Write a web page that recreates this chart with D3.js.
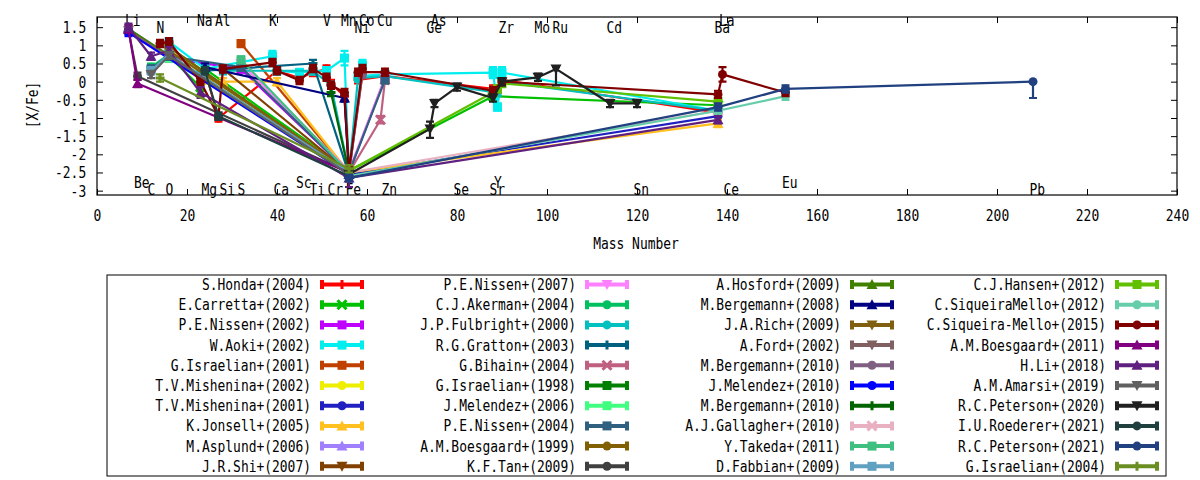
<!DOCTYPE html>
<html>
<head>
<meta charset="utf-8">
<script src="https://cdnjs.cloudflare.com/ajax/libs/d3/7.8.5/d3.min.js"></script>
<style>
  body { margin: 0; background: #fff; }
  text { font-family: "DejaVu Sans Mono", monospace; font-size: 15.5px; fill: #000; }
</style>
</head>
<body>
<div id="chart"></div>
<script>
// element symbols, mass numbers and the row their label sits in
const elementNames = ["Li","Be","C","N","O","Na","Mg","Al","Si","S","K","Ca","Sc","Ti","V","Cr","Mn","Fe","Co","Ni","Cu","Zn","Ge","As","Se","Sr","Y","Zr","Mo","Ru","Cd","Sn","Ba","La","Ce","Eu","Pb"];
const massNumbers  = [7,9,12,14,16,23,24,27,28,32,39,40,45,48,51,52,55,56,59,58,63,64,74,75,80,88,89,90,98,102,114,120,138,139,140,153,208];
const labelRows    = [0,2,3,1,3,0,3,0,3,3,0,3,2,3,0,3,0,3,0,1,0,3,1,0,3,3,2,1,1,1,1,3,1,0,3,2,3];
const labelRowValues = [1.67, 1.5, -2.78, -2.98];

const xTicks = [0,20,40,60,80,100,120,140,160,180,200,220,240];
const yTicks = [-3,-2.5,-2,-1.5,-1,-0.5,0,0.5,1,1.5];

const seriesNames = [
  "S.Honda+(2004)","E.Carretta+(2002)","P.E.Nissen+(2002)","W.Aoki+(2002)","G.Israelian+(2001)",
  "T.V.Mishenina+(2002)","T.V.Mishenina+(2001)","K.Jonsell+(2005)","M.Asplund+(2006)","J.R.Shi+(2007)",
  "P.E.Nissen+(2007)","C.J.Akerman+(2004)","J.P.Fulbright+(2000)","R.G.Gratton+(2003)","G.Bihain+(2004)",
  "G.Israelian+(1998)","J.Melendez+(2006)","P.E.Nissen+(2004)","A.M.Boesgaard+(1999)","K.F.Tan+(2009)",
  "A.Hosford+(2009)","M.Bergemann+(2008)","J.A.Rich+(2009)","A.Ford+(2002)","M.Bergemann+(2010)",
  "J.Melendez+(2010)","M.Bergemann+(2010)","A.J.Gallagher+(2010)","Y.Takeda+(2011)","D.Fabbian+(2009)",
  "C.J.Hansen+(2012)","C.SiqueiraMello+(2012)","C.Siqueira-Mello+(2015)","A.M.Boesgaard+(2011)","H.Li+(2018)",
  "A.M.Amarsi+(2019)","R.C.Peterson+(2020)","I.U.Roederer+(2021)","R.C.Peterson+(2021)","G.Israelian+(2004)"
];

const seriesColors = [
  "#ff0000","#00c000","#c000ff","#00eeee","#c04000",
  "#eeee00","#2020c0","#ffc020","#a080ff","#804000",
  "#ff80ff","#00c060","#00c0c0","#006080","#c06080",
  "#008000","#40ff80","#306080","#806000","#404040",
  "#408000","#000080","#806010","#806060","#806080",
  "#0000ff","#006400","#e8b0c0","#40c080","#60a0c0",
  "#60c000","#66cdaa","#800000","#800080","#602080",
  "#606060","#202020","#204040","#204080","#6b8e23"
];

// gnuplot point types: 1 plus, 2 cross, 5 square, 7 circle, 9 triangle up, 11 triangle down
const pointTypes = [1,2,5,5,5,7,7,9,9,11,11,7,7,1,2,5,5,5,7,7,9,9,11,11,7,7,1,2,5,5,5,7,7,9,9,11,11,7,7,1];

// [element, [X/Fe] (Fe: [Fe/H]), error] or [element, value, errLow, errHigh]
const seriesData = [
  [["Mg",0.3,0.1],["Al",-1.0,0.1],["Ca",0.3,0.1],["Sc",0.1,0.1],["Ti",0.25,0.1],["V",0.35,0.1],["Cr",-0.05,0.1],["Mn",-0.4,0.1],["Fe",-2.5,0.1],["Co",0.25,0.1],["Ni",0.05,0.1],["Zn",0.15,0.1],["Sr",-0.2,0.1],["Y",-0.3,0.1],["Zr",0.05,0.1],["Ba",-0.85,0.1]],
  [["O",0.7,0.1],["Na",-0.15,0.1],["Mg",0.35,0.1],["Fe",-2.45,0.1],["Sr",-0.4,0.1],["Ba",-0.65,0.1]],
  [["O",0.65,0.1],["S",0.35,0.1],["Fe",-2.5,0.1],["Zn",0.1,0.1]],
  [["O",1.1,0.1],["Mg",0.35,0.1],["K",0.7,0.15],["Ca",0.3,0.1],["Sc",0.25,0.1],["Ti",0.3,0.1],["V",0.3,0.1],["Mn",0.65,0.2],["Fe",-2.55,0.1],["Co",0.45,0.15],["Ni",0.15,0.1],["Zn",0.2,0.1],["Sr",0.25,0.15],["Y",-0.7,0.1],["Zr",0.25,0.15],["Ba",-0.8,0.1]],
  [["S",1.05,0.1,0.05],["Fe",-2.5,0.1]],
  [["O",0.85,0.1],["Fe",-2.45,0.1]],
  [["Fe",-2.55,0.1],["Ba",-0.95,0.1]],
  [["Mg",0.05,0.1],["Si",0.0,0.1],["Ca",0.0,0.1],["Fe",-2.5,0.1],["Ba",-1.15,0.1]],
  [["Li",1.45,0.1],["Fe",-2.55,0.1]],
  [["Si",0.35,0.1],["Fe",-2.5,0.1]],
  [["S",0.5,0.1],["Fe",-2.45,0.1],["Zn",0.1,0.1]],
  [["C",0.4,0.1],["O",0.75,0.1],["Fe",-2.5,0.1]],
  [["Na",0.2,0.1],["Mg",0.35,0.1],["Si",0.3,0.1],["Ca",0.3,0.1],["Ti",0.3,0.1],["Cr",-0.1,0.1],["Fe",-2.5,0.1],["Ni",0.1,0.1],["Zn",0.15,0.1],["Y",-0.3,0.1],["Zr",0.0,0.1],["Ba",-0.8,0.1]],
  [["O",0.75,0.1],["Na",0.1,0.1],["Mg",0.3,0.1],["Ti",0.5,0.1],["Fe",-2.55,0.1]],
  [["Fe",-2.5,0.1],["Cu",-1.05,0.1],["Zn",0.05,0.1]],
  [["O",0.95,0.1],["Fe",-2.5,0.1]],
  [["O",0.65,0.1],["Fe",-2.45,0.1]],
  [["C",0.35,0.1],["O",0.7,0.1],["S",0.4,0.1],["Fe",-2.5,0.1],["Zn",0.05,0.1]],
  [["O",0.95,0.1],["Fe",-2.5,0.1]],
  [["Li",1.4,0.1],["Be",0.15,0.1],["Fe",-2.5,0.1]],
  [["Li",1.45,0.1],["Fe",-2.5,0.1]],
  [["Mg",0.4,0.1],["Mn",-0.45,0.1],["Fe",-2.55,0.1]],
  [["O",0.85,0.1],["Fe",-2.45,0.1]],
  [["Li",1.4,0.1],["Fe",-2.5,0.1]],
  [["Fe",-2.5,0.1],["Co",0.2,0.1]],
  [["Li",1.35,0.1],["Fe",-2.55,0.1]],
  [["Cr",-0.3,0.1],["Fe",-2.5,0.1]],
  [["Fe",-2.5,0.1],["Ba",-0.8,0.1]],
  [["S",0.6,0.1],["Fe",-2.5,0.1]],
  [["C",0.3,0.1],["O",0.75,0.1],["Fe",-2.5,0.1]],
  [["Fe",-2.45,0.1],["Sr",-0.3,0.1],["Y",-0.2,0.1],["Zr",-0.05,0.1],["Ba",-0.55,0.1]],
  [["Fe",-2.6,0.1],["Ba",-0.8,0.1],["Eu",-0.4,0.1]],
  [["N",1.05,0.1],["O",1.1,0.1],["Na",0.0,0.1],["Al",-0.95,0.1],["Si",0.35,0.1],["K",0.53,0.1],["Ca",0.3,0.1],["Sc",0.03,0.1],["Ti",0.36,0.1],["V",0.12,0.1],["Cr",-0.1,0.1],["Mn",-0.3,0.1],["Fe",-2.45,0.1],["Co",0.36,0.1],["Ni",0.26,0.1],["Zn",0.26,0.1],["Sr",-0.25,0.1],["Zr",0.0,0.1],["Ba",-0.35,0.1],["La",0.2,0.2],["Eu",-0.3,0.1]],
  [["Li",1.45,0.1],["Be",-0.05,0.1],["Fe",-2.5,0.1]],
  [["Li",1.5,0.1],["C",0.7,0.1],["O",0.85,0.1],["Na",-0.3,0.15],["Fe",-2.65,0.25,0.05],["Ba",-1.05,0.1]],
  [["C",0.2,0.1],["O",0.72,0.1],["Fe",-2.55,0.1]],
  [["Fe",-2.55,0.1],["Ge",-1.3,0.25,0.2],["As",-0.6,0.1],["Se",-0.15,0.1],["Sr",-0.45,0.1],["Zr",0.0,0.1],["Mo",0.12,0.1],["Ru",0.35,0.45,0.05],["Cd",-0.6,0.1],["Sn",-0.6,0.1]],
  [["Mg",0.3,0.1],["Al",-0.95,0.1],["Fe",-2.6,0.1]],
  [["Fe",-2.65,0.1],["Ba",-0.7,0.1],["Eu",-0.2,0.1],["Pb",0.0,0.45,0.0]],
  [["N",0.1,0.1],["Fe",-2.4,0.1]]
];

const W = 1200, H = 480;
const margin = { left: 97, right: 1177, top: 17, bottom: 195 };
const massOf = new Map(elementNames.map((e, i) => [e, massNumbers[i]]));
const SX = 0.836; // glyphs in the original are narrow

const svg = d3.select("#chart").append("svg")
  .attr("width", W).attr("height", H)
  .style("display", "block");

const x = d3.scaleLinear().domain([0, 240]).range([margin.left, margin.right]);
const y = d3.scaleLinear().domain([-3.12, 1.78]).range([margin.bottom, margin.top]);

function label(g, px, py, str, anchor, rotate) {
  return g.append("text")
    .attr("transform", `translate(${px},${py})` + (rotate ? ` rotate(${rotate})` : "") + ` scale(${SX},1)`)
    .attr("text-anchor", anchor)
    .attr("dominant-baseline", "central")
    .text(str);
}

// axes (inward ticks on all four sides, gnuplot style)
const fmt = d => String(d);
const axB = svg.append("g").attr("transform", `translate(0,${margin.bottom})`)
  .call(d3.axisBottom(x).tickValues(xTicks).tickFormat(fmt).tickSizeInner(-6).tickSizeOuter(0).tickPadding(15));
const axT = svg.append("g").attr("transform", `translate(0,${margin.top})`)
  .call(d3.axisTop(x).tickValues(xTicks).tickFormat("").tickSizeInner(-6).tickSizeOuter(0));
const axL = svg.append("g").attr("transform", `translate(${margin.left},0)`)
  .call(d3.axisLeft(y).tickValues(yTicks).tickFormat(fmt).tickSizeInner(-6).tickSizeOuter(0).tickPadding(10.8));
const axR = svg.append("g").attr("transform", `translate(${margin.right},0)`)
  .call(d3.axisRight(y).tickValues(yTicks).tickFormat("").tickSizeInner(-6).tickSizeOuter(0));

[axB, axT, axL, axR].forEach(a => {
  a.select(".domain").remove();
  a.selectAll(".tick line").attr("stroke", "#000").attr("stroke-width", 1);
  a.selectAll("text").attr("font-family", null).attr("font-size", null).attr("fill", "#000");
});
axL.selectAll(".tick text").attr("dy", null).attr("dominant-baseline", "central")
  .attr("x", null).attr("transform", `translate(-10.8,0) scale(${SX},1)`);
axB.selectAll(".tick text").attr("transform", `scale(${SX},1)`);

svg.append("rect")
  .attr("x", margin.left).attr("y", margin.top)
  .attr("width", margin.right - margin.left).attr("height", margin.bottom - margin.top)
  .attr("fill", "none").attr("stroke", "#000").attr("stroke-width", 1.2);

label(svg, 636, 244, "Mass Number", "middle");
label(svg, 33, 105, "[X/Fe]", "middle", -90);

// element labels
const elLayer = svg.append("g");
elementNames.forEach((e, i) => {
  label(elLayer, x(massNumbers[i]) - 3.5, y(labelRowValues[labelRows[i]]), e, "start");
});

// marker shapes
function markerPath(t, s) {
  const h = s / 2;
  switch (t) {
    case 1: return `M${-h},0H${h}M0,${-h}V${h}`;
    case 2: return `M${-h},${-h}L${h},${h}M${-h},${h}L${h},${-h}`;
    case 5: return `M${-h},${-h}H${h}V${h}H${-h}Z`;
    case 7: return d3.symbol(d3.symbolCircle, Math.PI * h * h)();
    case 9: return `M0,${-h - 1}L${h + 1},${h}L${-h - 1},${h}Z`;
    case 11: return `M0,${h + 1}L${h + 1},${-h}L${-h - 1},${-h}Z`;
  }
}
function drawMarker(g, t, color, px, py, s) {
  const stroked = t === 1 || t === 2;
  g.append("path")
    .attr("d", markerPath(t, s))
    .attr("transform", `translate(${px},${py})`)
    .attr("fill", stroked ? "none" : color)
    .attr("stroke", stroked ? color : "none")
    .attr("stroke-width", stroked ? 3 : 0);
}

const plot = svg.append("g");
const line = d3.line().x(d => x(massOf.get(d[0]))).y(d => y(d[1]));

seriesData.forEach((pts, si) => {
  const color = seriesColors[si];
  const g = plot.append("g");
  g.append("path").attr("d", line(pts))
    .attr("fill", "none").attr("stroke", color).attr("stroke-width", 2.2)
    .attr("stroke-linejoin", "round");
  pts.forEach(d => {
    const px = x(massOf.get(d[0]));
    const lo = d[2], hi = d.length > 3 ? d[3] : d[2];
    const y0 = y(d[1] - lo), y1 = y(d[1] + hi);
    g.append("path")
      .attr("d", `M${px},${y0}V${y1}M${px - 4},${y0}H${px + 4}M${px - 4},${y1}H${px + 4}`)
      .attr("fill", "none").attr("stroke", color).attr("stroke-width", 2.2);
    drawMarker(g, pointTypes[si], color, px, y(d[1]), 9);
  });
});

// legend
const leg = svg.append("g");
leg.append("rect").attr("x", 107).attr("y", 275).attr("width", 1059).attr("height", 201)
  .attr("fill", "#fff").attr("stroke", "#000").attr("stroke-width", 1);
seriesNames.forEach((name, i) => {
  const c = Math.floor(i / 10), r = i % 10;
  const xs = 320 + 265 * c, xe = xs + 44, yy = 284.5 + 20.2 * r;
  const color = seriesColors[i];
  label(leg, xs - 9, yy, name, "end");
  leg.append("path")
    .attr("d", `M${xs},${yy}H${xe}M${xs + 2},${yy - 4.5}V${yy + 4.5}M${xe - 2},${yy - 4.5}V${yy + 4.5}`)
    .attr("fill", "none").attr("stroke", color).attr("stroke-width", 4);
  drawMarker(leg, pointTypes[i], color, (xs + xe) / 2, yy, 9);
});
</script>
</body>
</html>
